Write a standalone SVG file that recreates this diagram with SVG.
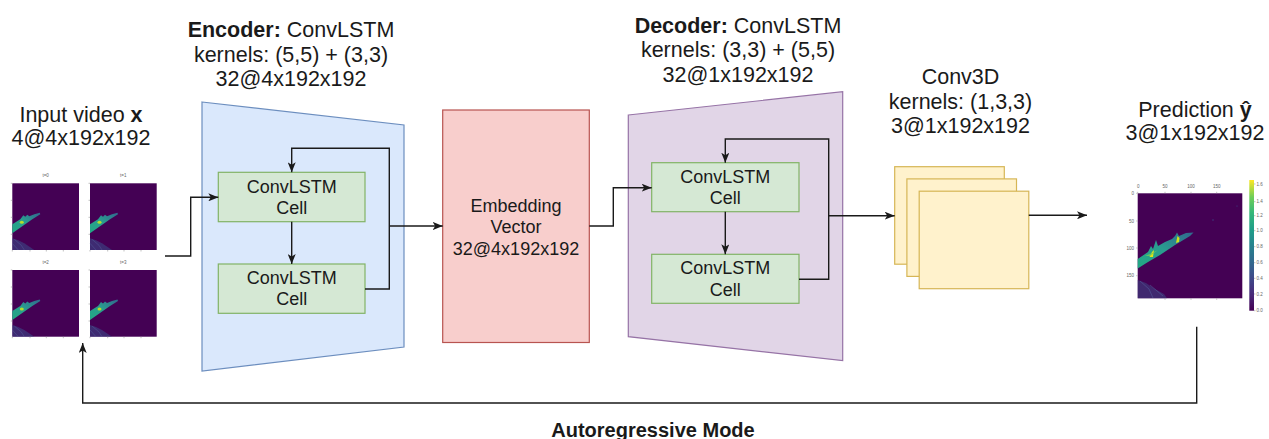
<svg xmlns="http://www.w3.org/2000/svg" width="1269" height="439" viewBox="0 0 1269 439">
  <style>
    text { font-family: "Liberation Sans", Arial, Helvetica, sans-serif; fill: #1a1a1a; }
    .title { font-size: 21.5px; text-anchor: middle; }
    .cell-text { font-size: 18px; text-anchor: middle; }
    .b { font-weight: bold; }
    .tick { font-size: 4.5px; fill: #666; }
    .wire { fill: none; stroke: #1a1a1a; stroke-width: 1.4; }
    .cell { fill: #d5e8d4; stroke: #82b366; stroke-width: 1.2; }
    .fmap { fill: #fff2cc; stroke: #d6b656; stroke-width: 1.2; }
    .tk { stroke: #999; stroke-width: 0.6; }
  </style>
  <defs>
    <marker id="arrow" viewBox="0 0 10 8" refX="10" refY="4" markerWidth="10" markerHeight="8" markerUnits="userSpaceOnUse" orient="auto">
      <path d="M0,0 L10,4 L0,8 L2.5,4 Z" fill="#1a1a1a"/>
    </marker>
    <linearGradient id="streak" x1="0" y1="1" x2="1" y2="0">
      <stop offset="0" stop-color="#22a884"/>
      <stop offset="0.5" stop-color="#2a9d8f"/>
      <stop offset="1" stop-color="#31688e"/>
    </linearGradient>
    <linearGradient id="viridis" x1="0" y1="1" x2="0" y2="0">
      <stop offset="0" stop-color="#440154"/>
      <stop offset="0.12" stop-color="#482878"/>
      <stop offset="0.25" stop-color="#3e4989"/>
      <stop offset="0.37" stop-color="#31688e"/>
      <stop offset="0.5" stop-color="#26828e"/>
      <stop offset="0.62" stop-color="#1f9e89"/>
      <stop offset="0.75" stop-color="#35b779"/>
      <stop offset="0.87" stop-color="#6ece58"/>
      <stop offset="1" stop-color="#fde725"/>
    </linearGradient>
    <!-- one frame of the input sequence, 66.7 px square -->
    <g id="frame">
      <rect x="0" y="0" width="66.7" height="66.7" fill="#440154"/>
      <path d="M0,41 L8,36 L11,32 L13,33.5 L15,31.5 L17,33 L22,31 L27.5,29.5 L28,31 L20,36 L10,43 L0,50 Z" fill="url(#streak)"/>
      <ellipse cx="9.5" cy="39" rx="2" ry="1.5" fill="#b5de2b"/>
      <path d="M0,55 L6,57 L12,60 L18,64 L22,66.7 L0,66.7 Z" fill="#3b4f8a" opacity="0.55"/>
      <path d="M2,56 L9,62 L12,66.7 M0,60 L6,66.7" stroke="#5a6fa8" stroke-width="0.5" fill="none" opacity="0.7"/>
      <g class="tk">
        <line x1="-1.5" y1="0" x2="0" y2="0"/><line x1="-1.5" y1="17" x2="0" y2="17"/>
        <line x1="-1.5" y1="34" x2="0" y2="34"/><line x1="-1.5" y1="51" x2="0" y2="51"/>
        <line x1="0" y1="66.7" x2="0" y2="68.2"/><line x1="17.7" y1="66.7" x2="17.7" y2="68.2"/>
        <line x1="34" y1="66.7" x2="34" y2="68.2"/><line x1="51" y1="66.7" x2="51" y2="68.2"/>
      </g>
    </g>
  </defs>

  <!-- input sequence -->
  <g id="input-video">
    <text class="title" x="81" y="122"><tspan>Input video </tspan><tspan class="b">x</tspan></text>
    <text class="title" x="81" y="145">4@4x192x192</text>
    <use href="#frame" x="12.3" y="183.3"/>
    <use href="#frame" x="90" y="183.3"/>
    <use href="#frame" x="12.3" y="270"/>
    <use href="#frame" x="90" y="270"/>
    <text class="tick" x="45.6" y="177" text-anchor="middle">t=0</text>
    <text class="tick" x="123.3" y="177" text-anchor="middle">t=1</text>
    <text class="tick" x="45.6" y="263.5" text-anchor="middle">t=2</text>
    <text class="tick" x="123.3" y="263.5" text-anchor="middle">t=3</text>
  </g>

  <!-- encoder -->
  <g id="encoder">
    <text class="title" x="291" y="37"><tspan class="b">Encoder:</tspan><tspan> ConvLSTM</tspan></text>
    <text class="title" x="291" y="61.5">kernels: (5,5) + (3,3)</text>
    <text class="title" x="291" y="86">32@4x192x192</text>
    <polygon points="202,102 404,125 404,347 202,371" fill="#dae8fc" stroke="#6c8ebf" stroke-width="1.2"/>
  </g>
  <g id="enc-cell-1">
    <rect class="cell" x="218.3" y="172.3" width="146.7" height="49.4"/>
    <text class="cell-text" x="291.7" y="192.7">ConvLSTM</text>
    <text class="cell-text" x="291.7" y="214">Cell</text>
  </g>
  <g id="enc-cell-2">
    <rect class="cell" x="218.3" y="264" width="146.7" height="49.3"/>
    <text class="cell-text" x="291.7" y="284">ConvLSTM</text>
    <text class="cell-text" x="291.7" y="305">Cell</text>
  </g>

  <!-- latent -->
  <g id="embedding">
    <rect x="442.7" y="110" width="146.6" height="232.5" fill="#f8cecc" stroke="#b85450" stroke-width="1.2"/>
    <text class="cell-text" x="516" y="211.5">Embedding</text>
    <text class="cell-text" x="516" y="233.3">Vector</text>
    <text class="cell-text" x="516" y="255">32@4x192x192</text>
  </g>

  <!-- decoder -->
  <g id="decoder">
    <text class="title" x="738" y="32.5"><tspan class="b">Decoder:</tspan><tspan> ConvLSTM</tspan></text>
    <text class="title" x="738" y="57">kernels: (3,3) + (5,5)</text>
    <text class="title" x="738" y="81.5">32@1x192x192</text>
    <polygon points="628.3,115 842.7,91.7 842.7,360.7 628.3,336.7" fill="#e1d5e7" stroke="#9673a6" stroke-width="1.2"/>
  </g>
  <g id="dec-cell-1">
    <rect class="cell" x="651.7" y="162.7" width="147.3" height="49"/>
    <text class="cell-text" x="725.3" y="183.3">ConvLSTM</text>
    <text class="cell-text" x="725.3" y="204.3">Cell</text>
  </g>
  <g id="dec-cell-2">
    <rect class="cell" x="651.7" y="254.3" width="147.3" height="49"/>
    <text class="cell-text" x="725.3" y="274.3">ConvLSTM</text>
    <text class="cell-text" x="725.3" y="295.7">Cell</text>
  </g>

  <!-- output convolution -->
  <g id="conv3d">
    <text class="title" x="960.5" y="84">Conv3D</text>
    <text class="title" x="960.5" y="108.5">kernels: (1,3,3)</text>
    <text class="title" x="960.5" y="133">3@1x192x192</text>
    <rect class="fmap" x="894.7" y="166.7" width="109.6" height="97.5"/>
    <rect class="fmap" x="906.9" y="178.9" width="109.6" height="97.5"/>
    <rect class="fmap" x="919.2" y="191.2" width="109.6" height="97.5"/>
  </g>

  <!-- predicted frame with colour bar -->
  <g id="prediction">
    <text class="title" x="1195" y="116.7"><tspan>Prediction </tspan><tspan class="b">ŷ</tspan></text>
    <text class="title" x="1195" y="140">3@1x192x192</text>
    <rect x="1137.7" y="193.3" width="104.6" height="105" fill="#440154"/>
    <path d="M1137.7,259 L1148,252 L1151,246 L1153,249 L1156,240 L1158,246 L1165,242 L1172,239 L1175,236 L1177,232.5 L1179,236 L1186,233 L1193.5,232.5 L1190,236 L1175,245 L1160,255 L1148,262 L1137.7,268.5 Z" fill="url(#streak)"/>
    <path d="M1149.5,257 L1152,252 L1154,250 L1153,257 Z" fill="#e3e418"/>
    <path d="M1176,243 L1177.5,236 L1179.5,238 L1179,242 Z" fill="#d2e21b"/>
    <path d="M1145,256 L1152,253 L1158,250 L1150,256 Z" fill="#6ece58" opacity="0.8"/>
    <path d="M1137.7,280 L1146,283 L1155,289 L1164,294 L1167,298.3 L1137.7,298.3 Z" fill="#3b4f8a" opacity="0.5"/>
    <path d="M1140,281 L1149,289 L1153,298 M1150,285 L1163,296" stroke="#5a6fa8" stroke-width="0.6" fill="none" opacity="0.7"/>
    <circle cx="1213" cy="220" r="0.7" fill="#3e4989"/>
    <circle cx="1237" cy="206" r="0.6" fill="#3e4989"/>
    <g class="tk">
      <line x1="1137.7" y1="193.3" x2="1137.7" y2="191.8"/><line x1="1165" y1="193.3" x2="1165" y2="191.8"/>
      <line x1="1191" y1="193.3" x2="1191" y2="191.8"/><line x1="1216.7" y1="193.3" x2="1216.7" y2="191.8"/>
      <line x1="1136.2" y1="193.3" x2="1137.7" y2="193.3"/><line x1="1136.2" y1="221" x2="1137.7" y2="221"/>
      <line x1="1136.2" y1="248" x2="1137.7" y2="248"/><line x1="1136.2" y1="275.7" x2="1137.7" y2="275.7"/>
      <line x1="1165" y1="298.3" x2="1165" y2="299.8"/><line x1="1191" y1="298.3" x2="1191" y2="299.8"/>
      <line x1="1216.7" y1="298.3" x2="1216.7" y2="299.8"/>
    </g>
    <text class="tick" x="1138.3" y="187.5" text-anchor="middle">0</text>
    <text class="tick" x="1165" y="187.5" text-anchor="middle">50</text>
    <text class="tick" x="1191" y="187.5" text-anchor="middle">100</text>
    <text class="tick" x="1216.7" y="187.5" text-anchor="middle">150</text>
    <text class="tick" x="1134" y="194.8" text-anchor="end">0</text>
    <text class="tick" x="1134" y="222.5" text-anchor="end">50</text>
    <text class="tick" x="1134" y="249.5" text-anchor="end">100</text>
    <text class="tick" x="1134" y="277.2" text-anchor="end">150</text>
    <rect x="1249.3" y="180" width="4.7" height="130.7" fill="url(#viridis)"/>
    <g class="tk">
      <line x1="1254" y1="184" x2="1255.5" y2="184"/><line x1="1254" y1="201.7" x2="1255.5" y2="201.7"/>
      <line x1="1254" y1="215.7" x2="1255.5" y2="215.7"/><line x1="1254" y1="230.7" x2="1255.5" y2="230.7"/>
      <line x1="1254" y1="246.7" x2="1255.5" y2="246.7"/><line x1="1254" y1="262.7" x2="1255.5" y2="262.7"/>
      <line x1="1254" y1="278.3" x2="1255.5" y2="278.3"/><line x1="1254" y1="294" x2="1255.5" y2="294"/>
      <line x1="1254" y1="310.7" x2="1255.5" y2="310.7"/>
    </g>
    <text class="tick" x="1256.5" y="185.5">1.6</text>
    <text class="tick" x="1256.5" y="203.2">1.4</text>
    <text class="tick" x="1256.5" y="217.2">1.2</text>
    <text class="tick" x="1256.5" y="232.2">1.0</text>
    <text class="tick" x="1256.5" y="248.2">0.8</text>
    <text class="tick" x="1256.5" y="264.2">0.6</text>
    <text class="tick" x="1256.5" y="279.8">0.4</text>
    <text class="tick" x="1256.5" y="295.5">0.2</text>
    <text class="tick" x="1256.5" y="312.2">0.0</text>
  </g>

  <!-- data flow -->
  <g id="connectors">
    <path class="wire" d="M165,256 H190.7 V197.3 H218.3" marker-end="url(#arrow)"/>
    <path class="wire" d="M291.7,221.7 V264" marker-end="url(#arrow)"/>
    <path class="wire" d="M365,289 H389.3 V148.3 H291.7 V172.3" marker-end="url(#arrow)"/>
    <path class="wire" d="M389.3,226 H442.7" marker-end="url(#arrow)"/>
    <path class="wire" d="M589.3,226 H613.3 V187.7 H651.7" marker-end="url(#arrow)"/>
    <path class="wire" d="M725.3,211.7 V254.3" marker-end="url(#arrow)"/>
    <path class="wire" d="M799,279.3 H828.7 V139 H725.3 V162.7" marker-end="url(#arrow)"/>
    <path class="wire" d="M828.7,215.7 H894.7" marker-end="url(#arrow)"/>
    <path class="wire" d="M1028.8,215.3 H1087" marker-end="url(#arrow)"/>
    <path class="wire" d="M1196.7,326.7 V403 H82.7 V343" marker-end="url(#arrow)"/>
  </g>

  <g id="loop-label">
    <text x="653" y="437" text-anchor="middle" font-size="20" font-weight="bold">Autoregressive Mode</text>
  </g>
</svg>
